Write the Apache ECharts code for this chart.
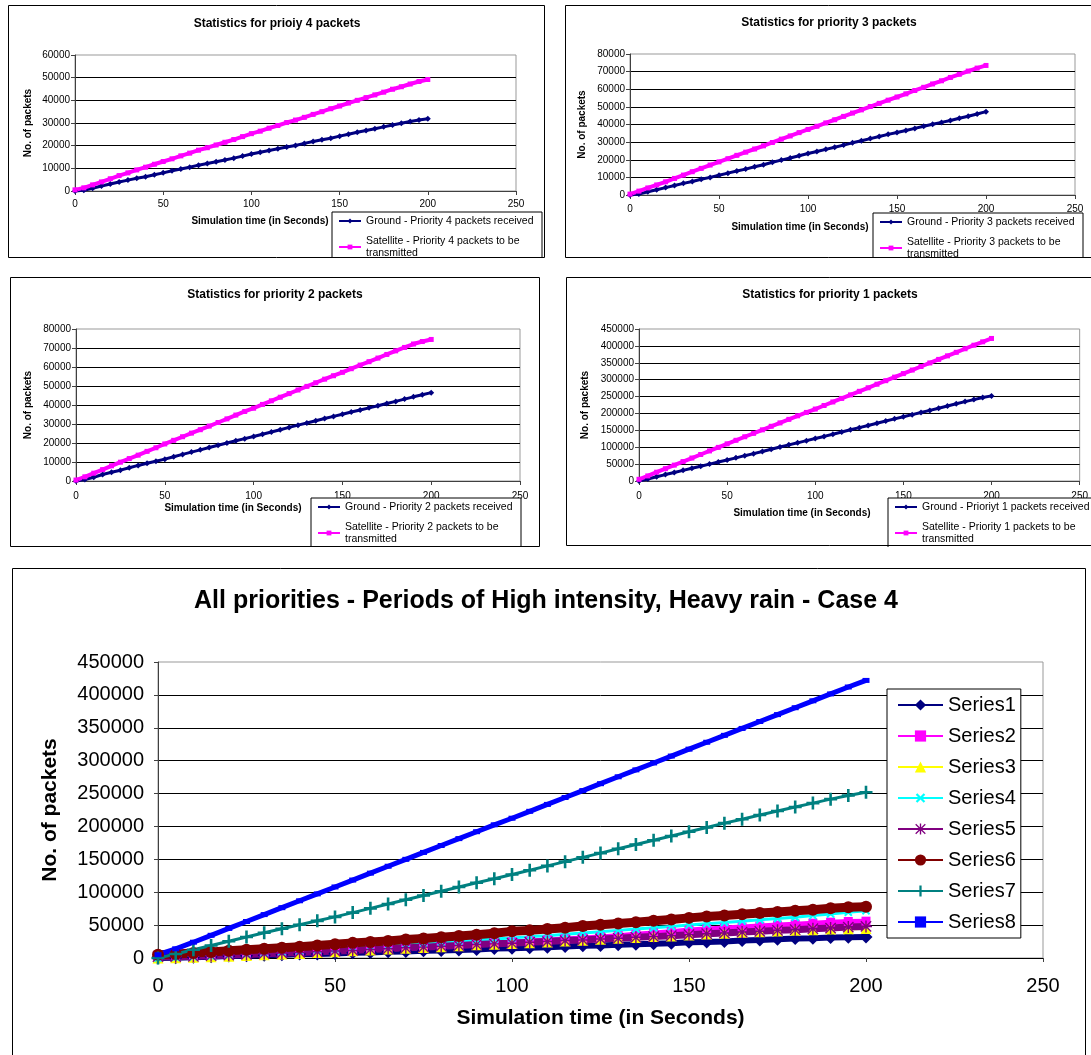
<!DOCTYPE html>
<html>
<head>
<meta charset="utf-8">
<script src="https://cdn.jsdelivr.net/npm/echarts@6/dist/echarts.min.js"></script>
<style>
html,body{margin:0;padding:0;background:#fff;}
#main{width:1091px;height:1055px;}
</style>
</head>
<body>
<div id="main"></div>
<script>
// simulation time (s), shared by every series
var TIME = [0,5,10,15,20,25,30,35,40,45,50,55,60,65,70,75,80,85,90,95,100,105,110,115,120,125,130,135,140,145,150,155,160,165,170,175,180,185,190,195,200];

// priority 4
var ground4 = [0,300,1200,2200,3100,4000,4800,5600,6300,7200,8000,8900,9700,10500,11400,12100,12900,13700,14500,15400,16300,17100,17900,18600,19400,20100,21000,21800,22600,23300,24200,25000,25900,26700,27500,28300,29100,29900,30700,31300,31900];
var sat4 = [500,1400,2700,4000,5400,6800,8000,9300,10500,11800,13000,14200,15500,16700,18000,19100,20300,21500,22700,24000,25300,26400,27700,28900,30200,31300,32500,33800,35000,36300,37500,38800,40000,41200,42400,43600,44900,46000,47200,48300,49200];
// priority 3
var ground3 = [0,500,1800,3000,4200,5400,6600,7700,8900,10000,11200,12400,13600,14700,16000,17200,18600,19800,21000,22300,23500,24700,25900,27100,28300,29600,30800,32000,33200,34400,35500,36600,37800,39000,40100,41200,42300,43500,44700,46000,47300];
var sat3 = [500,2200,4000,5700,7500,9400,11300,13200,15100,17000,18800,20600,22500,24300,26100,27900,29800,31700,33500,35400,37200,39000,40900,42700,44600,46500,48300,50200,52000,53800,55600,57400,59300,61100,63000,64800,66700,68500,70300,72000,73500];
// priority 2
var ground2 = [0,800,2000,3400,4600,5700,7000,8200,9300,10400,11500,12800,14000,15200,16400,17600,18800,20000,21200,22300,23400,24600,25800,27000,28200,29400,30500,31700,32900,34000,35100,36300,37400,38500,39600,40800,41900,43100,44300,45400,46500];
var sat2 = [500,2200,4100,6000,8000,9900,11800,13600,15600,17500,19500,21400,23300,25200,27000,28900,30800,32700,34700,36600,38300,40300,42200,44100,46000,47900,49800,51700,53600,55400,57200,59100,61000,62800,64700,66600,68500,70300,72100,73400,74500];
// priority 1
var ground1 = [0,6000,12500,19000,25000,31500,37500,43500,50000,56000,62000,68500,75000,81000,87500,94000,100500,107000,113000,119500,126000,132000,138500,145000,151500,158000,164500,171000,177500,184000,190000,196500,203000,209000,215500,222000,228500,235000,241000,247000,252000];
var sat1 = [5000,15000,26000,36500,47000,57500,68000,78500,89000,99500,110000,120500,131000,141000,151500,162000,172000,182500,193000,203000,213000,223500,234000,244500,255000,265500,276000,286500,297000,307500,318000,328500,339000,349500,360000,370500,381000,391500,402000,412000,422000];

// all priorities - case 4
var s1 = [0,500,1200,2000,3000,3500,4300,5000,6000,6000,7000,8000,8500,9500,10000,11000,11500,12000,13000,14500,15000,15500,16500,17500,18500,19000,20000,21000,21500,22500,24000,24500,25000,26500,27500,28500,29500,30000,31000,31500,32000];
var s2 = [4000,3000,3500,4000,5000,5500,6500,7000,8000,9000,10500,12000,13000,14500,16000,17000,18500,20000,21500,23000,24500,26000,27500,29000,30500,32000,34000,36000,38000,40000,42500,44000,45500,47000,48500,50000,51500,53000,54500,55500,56000];
var s3 = [0,300,1000,1800,2800,3800,4800,6000,7000,8200,9500,11000,12000,13500,15000,16000,17000,18500,20000,21000,22000,23000,24500,26000,27000,28500,30000,31000,32500,33500,35000,36500,37500,39000,40000,41000,42000,43000,44000,44500,45000];
var s4 = [0,1000,2000,3000,4500,6000,7500,9000,10500,12500,14000,16000,17500,19000,21000,22500,24000,26000,27500,29000,30500,32500,34000,36000,38000,40000,42000,44000,46000,48000,50000,52000,54000,56000,58000,60000,62000,64500,67000,69500,72000];
var s5 = [2000,2000,2500,3500,4500,5500,6500,7500,8500,9500,10500,11500,13000,14000,15500,16500,18000,19000,20500,21500,22500,24000,25000,26500,27500,29000,30000,31500,32500,34000,35500,37000,38000,39500,40500,42000,43000,44500,45500,47000,48000];
var s6 = [5000,6000,7500,9000,11000,12500,14000,15500,17000,19000,21000,23000,24500,26000,28000,29500,31500,33500,35500,37500,40500,42000,44000,46000,48500,50500,52500,54500,56500,58500,61000,63000,64500,66500,68500,70000,72000,73500,75500,77000,78000];
var s7 = [0,6000,12500,19000,25500,32000,38500,44500,50500,56500,62500,69000,75500,82000,88500,95000,101500,108000,114500,120500,127000,133500,140000,146500,153000,159500,166000,172500,179000,185500,192000,198500,205000,211000,217500,223500,229500,235500,241500,247000,252000];
var s8 = [5000,14000,24000,34500,45000,55500,66000,76500,87000,97500,108000,118500,129000,139500,150000,160500,171000,181500,192000,202500,212500,223000,233500,244000,254500,265000,275500,286000,296500,307000,317500,328000,338500,349000,359500,370000,380500,391000,401500,412000,422000];

var titles = ['Statistics for prioiy 4 packets','Statistics for priority 3 packets','Statistics for priority 2 packets','Statistics for priority 1 packets','All priorities - Periods of High intensity, Heavy rain - Case 4'];
var groundNames = ['Ground - Priority 4 packets received','Ground - Priority 3 packets received','Ground - Priority 2 packets received','Ground - Prioriyt 1 packets received'];
var satNames = ['Satellite - Priority 4 packets to be transmitted','Satellite - Priority 3 packets to be transmitted','Satellite - Priority 2 packets to be transmitted','Satellite - Priority 1 packets to be transmitted'];
var seriesNames = ['Series1','Series2','Series3','Series4','Series5','Series6','Series7','Series8'];
var xTitle = 'Simulation time (in Seconds)';
var yTitle = 'No. of packets';

var FONT = '"Liberation Sans", Arial, sans-serif';
var PLUS = 'path://M4,0h2v4h4v2h-4v4h-2v-4h-4v-2h4z';
var STAR = 'path://M4.4,0h1.2v10h-1.2z M0,4.4h10v1.2h-10z M1.1,0.3l8.6,8.6l-0.8,0.8l-8.6,-8.6z M8.9,0.3l0.8,0.8l-8.6,8.6l-0.8,-0.8z';

function pairs(vals){
  var out = [];
  for (var i = 0; i < TIME.length; i++) out.push([TIME[i], vals[i]]);
  return out;
}

function line(name, idx, vals, color, symbol, size, width, extra){
  var s = {
    type: 'line', name: name, xAxisIndex: idx, yAxisIndex: idx,
    data: pairs(vals), symbol: symbol, symbolSize: size, showSymbol: true,
    itemStyle: {color: color}, lineStyle: {color: color, width: width},
    emphasis: {disabled: true}, animation: false, clip: false
  };
  for (var k in extra) s[k] = extra[k];
  return s;
}

function xAx(idx, fs, margin){
  return {
    type: 'value', gridIndex: idx, min: 0, max: 250, interval: 50,
    axisLine: {lineStyle: {color: '#404040'}},
    axisTick: {show: true, length: 4, lineStyle: {color: '#404040'}},
    axisLabel: {fontSize: fs, color: '#000', margin: margin, fontFamily: FONT},
    splitLine: {show: false}
  };
}

function yAx(idx, max, interval, fs, margin, gap, nameFs){
  return {
    type: 'value', gridIndex: idx, min: 0, max: max, interval: interval,
    name: yTitle, nameLocation: 'middle', nameGap: gap,
    nameTextStyle: {fontSize: nameFs, fontWeight: 'bold', color: '#000', fontFamily: FONT},
    axisLine: {show: true, lineStyle: {color: '#404040'}},
    axisTick: {show: true, length: 4, lineStyle: {color: '#404040'}},
    axisLabel: {fontSize: fs, color: '#000', margin: margin, fontFamily: FONT,
      formatter: function(v){ return String(v); }},
    splitLine: {show: true, showMaxLine: false, lineStyle: {color: '#000', width: 1}}
  };
}

function smallLegend(idx, left, top){
  return {
    data: [groundNames[idx], satNames[idx]], left: left, top: top, orient: 'vertical',
    backgroundColor: '#fff', borderColor: '#000', borderWidth: 1, borderRadius: 0,
    padding: [3, 4, 4, 6], itemGap: 8, itemWidth: 22, itemHeight: 6,
    textStyle: {fontSize: 10.5, color: '#000', fontFamily: FONT, width: 172, overflow: 'break', lineHeight: 12},
    selectedMode: false
  };
}

function txt(x, y, text, font){
  return {type: 'text', x: x, y: y, z: 70,
    style: {text: text, font: font, fill: '#000', textAlign: 'center', textVerticalAlign: 'middle', align: 'center', verticalAlign: 'middle'}};
}
function box(x, y, w, h){
  return {type: 'rect', z: 80, shape: {x: x + 0.5, y: y + 0.5, width: w, height: h},
    style: {fill: 'none', stroke: '#000', lineWidth: 1}};
}
function cover(y, h){
  return {type: 'rect', z: 60, shape: {x: 0, y: y, width: 1091, height: h}, style: {fill: '#fff'}};
}

var grids = [
  {left: 75, top: 55, width: 441, height: 136},
  {left: 630, top: 54, width: 445, height: 141},
  {left: 76, top: 329, width: 444, height: 152},
  {left: 639, top: 329, width: 441, height: 152},
  {left: 158, top: 662, width: 885, height: 296}
];
for (var g = 0; g < grids.length; g++){
  grids[g].show = true; grids[g].borderColor = '#999'; grids[g].borderWidth = 1;
  grids[g].backgroundColor = 'transparent'; grids[g].containLabel = false;
}

var xAxes = [xAx(0, 10, 8), xAx(1, 10, 9), xAx(2, 10, 10), xAx(3, 10, 10), xAx(4, 20, 18)];
var yAxes = [
  yAx(0, 60000, 10000, 10, 5, 42, 10),
  yAx(1, 80000, 10000, 10, 5, 43, 10),
  yAx(2, 80000, 10000, 10, 5, 43, 10),
  yAx(3, 450000, 50000, 10, 5, 49, 10),
  yAx(4, 450000, 50000, 20, 14, 97, 21)
];
var bx = xAxes[4];
bx.name = xTitle; bx.nameLocation = 'middle'; bx.nameGap = 50;
bx.nameTextStyle = {fontSize: 21, fontWeight: 'bold', color: '#000', fontFamily: FONT};
bx.axisLine.lineStyle.color = '#000';

var grounds = [ground4, ground3, ground2, ground1];
var sats = [sat4, sat3, sat2, sat1];
var series = [];
for (var i = 0; i < 4; i++){
  series.push(line(groundNames[i], i, grounds[i], '#000080', 'diamond', 6, 3));
  series.push(line(satNames[i], i, sats[i], '#FF00FF', 'rect', 5, 4));
}
series.push(line(seriesNames[0], 4, s1, '#000080', 'diamond', 13, 6));
series.push(line(seriesNames[1], 4, s2, '#FF00FF', 'rect', 9, 5));
series.push(line(seriesNames[2], 4, s3, '#FFFF00', 'triangle', 11, 3));
series.push(line(seriesNames[3], 4, s4, '#00FFFF', PLUS, 10, 3, {symbolRotate: 45}));
series.push(line(seriesNames[4], 4, s5, '#800080', STAR, 12, 7));
series.push(line(seriesNames[5], 4, s6, '#800000', 'circle', 12, 9));
series.push(line(seriesNames[6], 4, s7, '#008080', PLUS, 13, 3));
series.push(line(seriesNames[7], 4, s8, '#0000FF', 'rect', [7, 5], 5));

var option = {
  backgroundColor: '#fff',
  animation: false,
  textStyle: {fontFamily: FONT},
  grid: grids,
  xAxis: xAxes,
  yAxis: yAxes,
  legend: [
    smallLegend(0, 332, 212),
    smallLegend(1, 873, 213),
    smallLegend(2, 311, 498),
    smallLegend(3, 888, 498),
    {
      data: seriesNames, left: 887, top: 689, orient: 'vertical',
      backgroundColor: '#fff', borderColor: '#000', borderWidth: 1, borderRadius: 0,
      padding: [5, 5, 5, 10], itemGap: 9, itemWidth: 45, itemHeight: 14,
      textStyle: {fontSize: 20, color: '#000', fontFamily: FONT, lineHeight: 22},
      itemStyle: {borderWidth: 0},
      lineStyle: {width: 2},
      selectedMode: false
    }
  ],
  graphic: [
    cover(258, 19), cover(547, 21),
    box(8, 5, 536, 252), box(565, 5, 540, 252),
    box(10, 277, 529, 269), box(566, 277, 540, 268),
    box(12, 568, 1073, 500),
    txt(277, 24, titles[0], 'bold 12px ' + FONT),
    txt(829, 23, titles[1], 'bold 12px ' + FONT),
    txt(275, 295, titles[2], 'bold 12px ' + FONT),
    txt(830, 295, titles[3], 'bold 12px ' + FONT),
    txt(546, 601, titles[4], 'bold 25px ' + FONT),
    txt(260, 221, xTitle, 'bold 10px ' + FONT),
    txt(800, 227, xTitle, 'bold 10px ' + FONT),
    txt(233, 508, xTitle, 'bold 10px ' + FONT),
    txt(802, 513, xTitle, 'bold 10px ' + FONT)
  ],
  series: series
};

var myChart = echarts.init(document.getElementById('main'), null, {renderer: 'canvas'});
myChart.setOption(option);
</script>
</body>
</html>
